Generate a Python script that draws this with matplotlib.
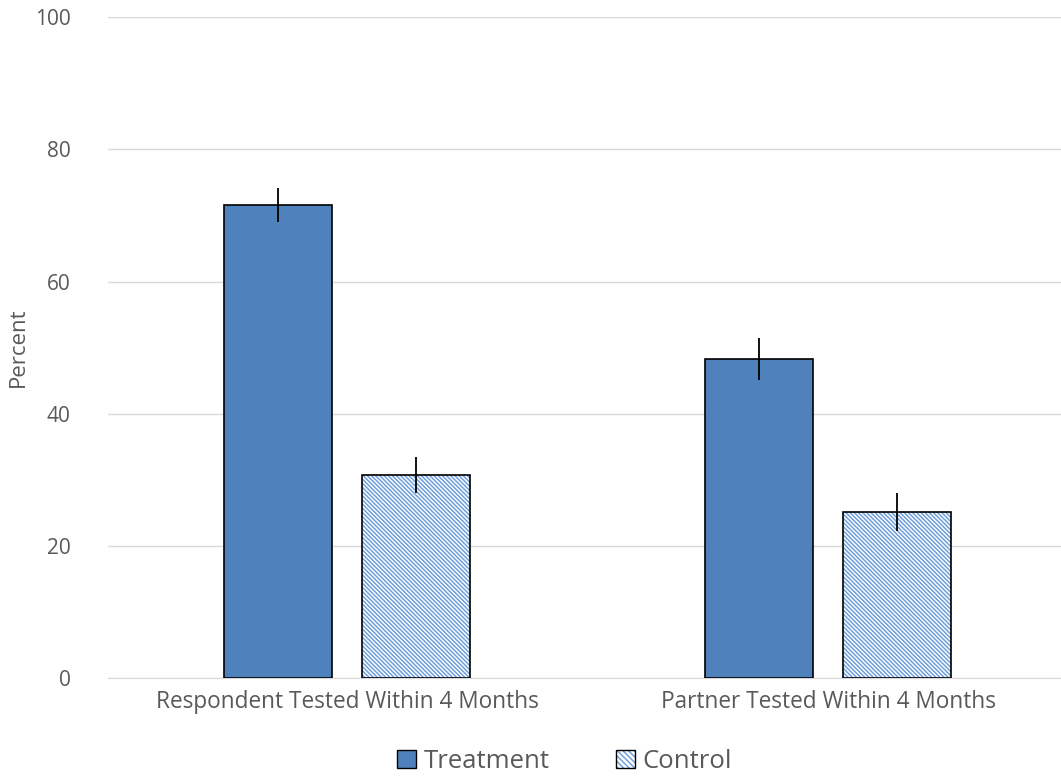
import matplotlib
matplotlib.use("Agg")
import matplotlib.pyplot as plt
import numpy as np
from matplotlib.patches import Patch
from matplotlib.legend_handler import HandlerTuple

categories = ["Respondent Tested Within 4 Months", "Partner Tested Within 4 Months"]
treatment = [71.6, 48.3]
treatment_err = [2.6, 3.2]
control = [30.7, 25.1]
control_err = [2.7, 2.9]
yticks = [0, 20, 40, 60, 80, 100]

plt.rcParams['font.family'] = ['Open Sans', 'DejaVu Sans']
plt.rcParams['hatch.linewidth'] = 1.1
plt.rcParams['hatch.color'] = '#6f9fdc'

fig = plt.figure(figsize=(10.61, 7.82), dpi=100)
ax = fig.add_axes([0.1018, 0.133, 0.8982, 0.845])

x = np.arange(len(categories))
w = 0.225
off = 0.143
ax.bar(x - off, treatment, w, color='#4f81bd', edgecolor='black', linewidth=1.2, zorder=3)
ax.errorbar(x - off, treatment, yerr=treatment_err, fmt='none', ecolor='black', elinewidth=1.3, capsize=0, zorder=4)
ax.bar(x + off, control, w, color='white', edgecolor='#6f9fdc', hatch='\\\\\\\\\\\\\\\\', linewidth=0, zorder=3)
ax.bar(x + off, control, w, color='none', edgecolor='black', linewidth=1.2, zorder=3.5)
ax.errorbar(x + off, control, yerr=control_err, fmt='none', ecolor='black', elinewidth=1.3, capsize=0, zorder=4)

ax.set_xlim(-0.497, 1.484)
ax.set_ylim(0, 100)
ax.set_yticks(yticks)
ax.set_xticks(x)
ax.set_xticklabels(categories)
ax.tick_params(axis='x', length=0, labelsize=16.3, colors='#595959', pad=9)
ax.tick_params(axis='y', length=0, labelsize=15, colors='#595959', pad=27)
ax.grid(axis='y', color='#d9d9d9', linewidth=1, zorder=0)
for s in ['top', 'right', 'left']:
    ax.spines[s].set_visible(False)
ax.spines['bottom'].set_color('#d9d9d9')
ax.set_ylabel('Percent', fontsize=16, color='#595959', labelpad=4)

h_treat = Patch(facecolor='#4f81bd', edgecolor='black', linewidth=1.0)
h_ctrl_fill = Patch(facecolor='white', edgecolor='#6f9fdc', hatch='\\\\\\\\\\\\', linewidth=0)
h_ctrl_edge = Patch(facecolor='none', edgecolor='black', linewidth=1.0)
leg = fig.legend([h_treat, (h_ctrl_fill, h_ctrl_edge)], ['Treatment', 'Control'],
                 handler_map={tuple: HandlerTuple(ndivide=1, pad=0)},
                 loc='center', bbox_to_anchor=(0.532, 0.026), ncol=2, frameon=False,
                 fontsize=18.5, handlelength=0.72, handleheight=0.72, columnspacing=2.6, handletextpad=0.3)
for t in leg.get_texts():
    t.set_color('#595959')

fig.savefig('out.png', dpi=100)
